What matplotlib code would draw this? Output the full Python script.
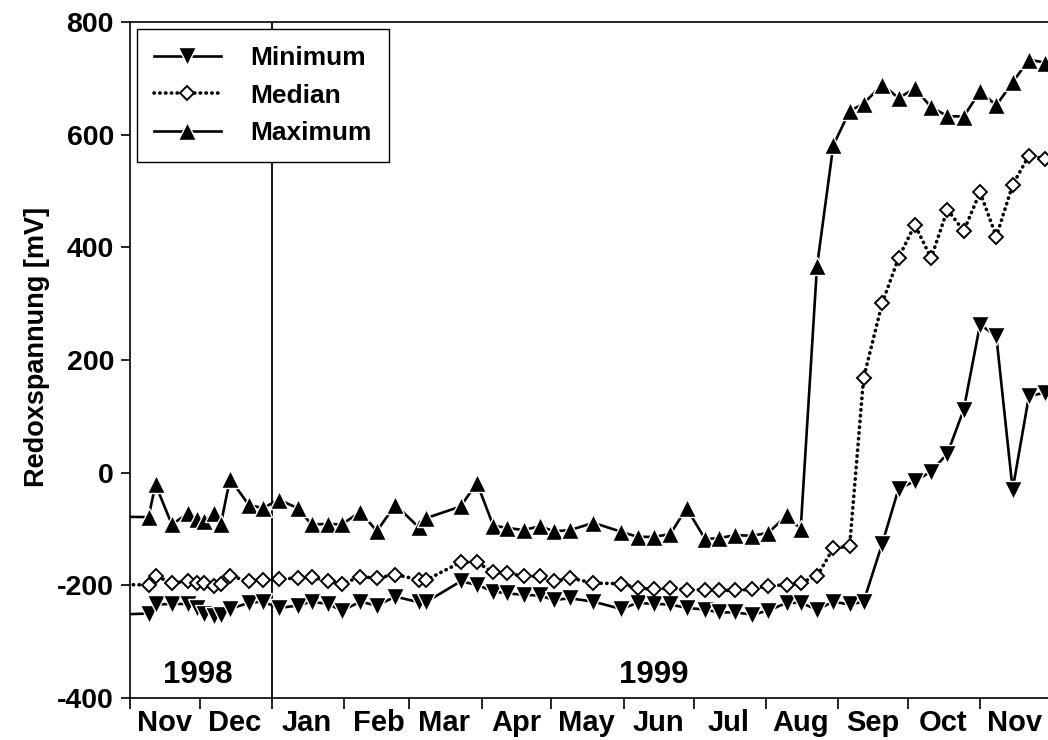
import numpy as np
import matplotlib
matplotlib.use("Agg")
import matplotlib.pyplot as plt
import matplotlib.dates as mdates

plt.rcParams['font.family'] = ['Liberation Sans', 'DejaVu Sans']
plt.rcParams['font.weight'] = 'bold'
plt.rcParams['axes.unicode_minus'] = False

# sampling dates (first one lies just left of the visible range)
dates = [
    '1998-10-26', '1998-11-09', '1998-11-12', '1998-11-19', '1998-11-26', '1998-11-30',
    '1998-12-03', '1998-12-07', '1998-12-10', '1998-12-14', '1998-12-22', '1998-12-28',
    '1999-01-04', '1999-01-12', '1999-01-18', '1999-01-25', '1999-01-31',
    '1999-02-08', '1999-02-15', '1999-02-23',
    '1999-03-05', '1999-03-08', '1999-03-23', '1999-03-30',
    '1999-04-06', '1999-04-12', '1999-04-19', '1999-04-26',
    '1999-05-02', '1999-05-09', '1999-05-19', '1999-05-31',
    '1999-06-07', '1999-06-14', '1999-06-21', '1999-06-28',
    '1999-07-06', '1999-07-12', '1999-07-19', '1999-07-26',
    '1999-08-02', '1999-08-10', '1999-08-16', '1999-08-23', '1999-08-30',
    '1999-09-06', '1999-09-12', '1999-09-20', '1999-09-27',
    '1999-10-04', '1999-10-11', '1999-10-18', '1999-10-25',
    '1999-11-01', '1999-11-08', '1999-11-15', '1999-11-22', '1999-11-29',
]

minimum = [
    -252, -250, -234, -233, -233, -240, -250, -255, -252, -242, -231, -229,
    -240, -236, -229, -233, -245, -229, -236, -220, -230, -230, -193, -199,
    -211, -214, -217, -218, -226, -223, -229, -242, -231, -233, -234, -240,
    -243, -248, -248, -252, -245, -231, -231, -243, -229, -234, -229, -126,
    -29, -15, 2, 34, 112, 263, 242, -30, 136, 142,
]

median = [
    -199, -199, -183, -196, -193, -195, -196, -202, -197, -183, -193, -190,
    -189, -187, -185, -193, -197, -185, -187, -181, -190, -191, -159, -159,
    -177, -178, -184, -184, -193, -187, -196, -197, -205, -207, -205, -208,
    -208, -209, -209, -207, -201, -199, -195, -184, -134, -131, 168, 301,
    381, 440, 381, 467, 429, 498, 419, 511, 563, 557,
]

maximum = [
    -78, -79, -21, -92, -72, -82, -85, -72, -92, -11, -57, -63,
    -48, -63, -92, -91, -92, -69, -104, -57, -97, -81, -60, -18,
    -94, -98, -102, -95, -104, -102, -89, -105, -114, -114, -109, -63,
    -118, -116, -111, -112, -107, -76, -100, 366, 581, 642, 655, 689,
    665, 682, 649, 633, 632, 677, 652, 693, 733, 728,
]

year_labels = ['1998', '1999']
year_label_dates = ['1998-11-30', '1999-06-14']
year_break = '1999-01-01'


def plot_series(ax: plt.Axes, x: np.ndarray) -> None:
    """Draw the three redox series."""
    ax.plot(x, minimum, color='black', lw=1.9, marker='v', ms=12.5,
            mfc='black', mec='white', mew=1.0, label='Minimum', zorder=3)
    ax.plot(x, median, color='black', lw=2.6, linestyle=(0, (0.1, 1.5)),
            dash_capstyle='round', marker='D', ms=7.5, mfc='white', mec='black',
            mew=1.4, label='Median', zorder=3)
    ax.plot(x, maximum, color='black', lw=1.9, marker='^', ms=12.5,
            mfc='black', mec='white', mew=1.0, label='Maximum', zorder=3)


def style_axes(ax: plt.Axes) -> None:
    """Axis limits, ticks and labels."""
    ax.set_xlim(np.datetime64('1998-11-01'), np.datetime64('1999-12-01'))
    ax.set_ylim(-400, 800)
    ax.set_yticks(np.arange(-400, 801, 200))

    ax.xaxis.set_major_locator(mdates.MonthLocator())
    ax.xaxis.set_major_formatter(plt.NullFormatter())
    ax.xaxis.set_minor_locator(mdates.MonthLocator(bymonthday=16))
    ax.xaxis.set_minor_formatter(mdates.DateFormatter('%b'))

    ax.tick_params(axis='x', which='major', direction='out', length=8, width=1.2)
    ax.tick_params(axis='x', which='minor', length=0, pad=8, labelsize=21)
    ax.tick_params(axis='y', which='major', direction='out', length=6.5, width=1.2,
                   pad=5, labelsize=20.5)
    for lbl in ax.get_xticklabels(minor=True) + ax.get_yticklabels():
        lbl.set_fontweight('bold')

    for side in ('left', 'bottom', 'top', 'right'):
        ax.spines[side].set_linewidth(1.2)

    ax.set_ylabel('Redoxspannung [mV]', fontsize=19.5, fontweight='bold')
    ax.yaxis.set_label_coords(-0.087, 0.52)

    ax.axvline(np.datetime64(year_break), color='black', lw=1.3, zorder=2)
    for txt, d in zip(year_labels, year_label_dates):
        ax.text(np.datetime64(d), -359, txt, ha='center', va='center',
                fontsize=22.5, fontweight='bold')


def main() -> None:
    fig = plt.figure(figsize=(10.48, 7.40), dpi=100)
    ax = fig.add_axes([129.9 / 1048, 42 / 740, 920 / 1048, 676 / 740])
    x = np.array(dates, dtype='datetime64[D]')

    plot_series(ax, x)
    style_axes(ax)

    leg = ax.legend(loc='upper left', bbox_to_anchor=(136.7 / 1048, 1 - 29.3 / 740),
                    bbox_transform=fig.transFigure, borderaxespad=0,
                    numpoints=1, handlelength=2.55, handletextpad=1.1,
                    labelspacing=0.5, borderpad=0.65, fancybox=False,
                    edgecolor='black', framealpha=1,
                    prop={'size': 19, 'weight': 'bold'})
    leg.get_frame().set_linewidth(1.0)

    fig.savefig('out.png', dpi=100)


if __name__ == '__main__':
    main()
